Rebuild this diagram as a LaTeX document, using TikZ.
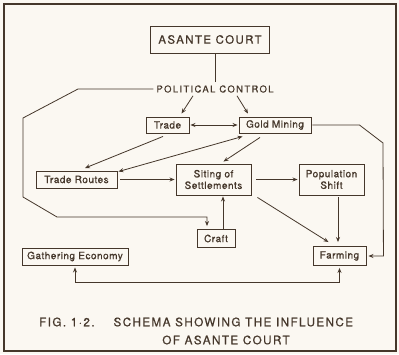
\documentclass[tikz,border=0pt]{standalone}
\usepackage{fontspec}
\setmainfont{TeX Gyre Heros}
\newfontfamily\widefont[LetterSpace=12,FakeBold=0.6]{TeX Gyre Heros}
\newfontfamily\polfont[LetterSpace=14,FakeBold=0.6]{TeX Gyre Heros}
\newfontfamily\midfont[LetterSpace=5,FakeBold=0.6]{TeX Gyre Heros}
\usetikzlibrary{arrows.meta,calc}
\definecolor{ink}{HTML}{45372B}
\definecolor{paper}{HTML}{FBF8F2}
\tikzset{
  box/.style={draw=ink, line width=0.9pt, inner sep=0pt, align=center,
    text=ink, font=\midfont\fontsize{10}{11.5}\selectfont},
  ln/.style={draw=ink, line width=0.8pt},
  arr/.style={ln, -{Stealth[length=5pt,width=4pt]}},
  arrb/.style={ln, {Stealth[length=5pt,width=4pt]}-{Stealth[length=5pt,width=4pt]}},
  lbl/.style={text=ink, inner sep=2pt}
}
\begin{document}
\begin{tikzpicture}[x=1pt,y=-1pt]
\useasboundingbox (0,0) rectangle (399,354);
\fill[paper] (0,0) rectangle (399,354);
\draw[ink, line width=1.2pt] (4,4) rectangle (396,351);

\node[box, minimum width=119, minimum height=27, font=\widefont\fontsize{11.5}{13}\selectfont] (court) at (210,39.5) {ASANTE COURT};
\node[lbl, font=\polfont\fontsize{9.5}{11}\selectfont, inner sep=3pt] (pc) at (215,89) {POLITICAL CONTROL};
\node[box, minimum width=43, minimum height=16] (trade) at (167.5,125) {Trade};
\node[box, minimum width=72, minimum height=16] (gold) at (275,125) {Gold Mining};
\node[box, minimum width=81, minimum height=17] (routes) at (76.5,179.5) {Trade Routes};
\node[box, minimum width=75, minimum height=31] (siting) at (213.5,179.5) {Siting of\\Settlements};
\node[box, minimum width=65, minimum height=31] (pop) at (331.5,179.5) {Population\\Shift};
\node[box, minimum width=38, minimum height=18] (craft) at (216,238.5) {Craft};
\node[box, minimum width=106, minimum height=17] (gather) at (75,256.5) {Gathering Economy};
\node[box, minimum width=53, minimum height=19] (farm) at (339.5,256) {Farming};

\node[lbl, font=\widefont\fontsize{11.7}{14}\selectfont, anchor=west] (cap1) at (37,322) {FIG. 1·2.\hspace{19pt}SCHEMA SHOWING THE INFLUENCE};
\node[lbl, font=\widefont\fontsize{11.7}{14}\selectfont] (cap2) at (226,340) {OF ASANTE COURT};

% court to political control
\draw[ln] (pc.north) -- (pc.north |- court.south);

% political control arrows
\draw[arr] ([xshift=-22]pc.south) -- ([xshift=14,yshift=3]trade.north);
\draw[arr] ([xshift=22]pc.south) -- ([xshift=-27,yshift=3]gold.north);

% left loop to craft
\coordinate (cin) at ([xshift=-9,yshift=3]craft.north);
\coordinate (lowy) at (0,217);
\draw[arr] (pc.west) -- (78,89) -- (23,118) -- (23,197) -- (57,217) -- (cin |- lowy) -- (cin);

% trade <-> gold
\draw[arrb] ([xshift=1]trade.east) -- ([xshift=-1]gold.west);
% trade -> routes
\draw[arr] ([xshift=-4.5,yshift=-3]trade.south) -- ([xshift=8.5,yshift=2.5]routes.north);
% gold <-> routes
\draw[arrb] ([xshift=4,yshift=-3]gold.south west) -- ([xshift=1,yshift=-1]routes.north east);
% gold -> siting
\draw[arr] ([xshift=-15,yshift=-4]gold.south) -- ([xshift=10,yshift=2]siting.north);
% gold -> farming via right
\draw[arr] ([xshift=1]gold.east) -- ++(47,0) -- (383,143) -- ($(farm.east)+(17,0)$) -- ([xshift=2]farm.east);
% routes -> siting
\draw[arr] ([xshift=3]routes.east) -- ([xshift=-1]siting.west);
% siting -> population
\draw[arr] ([xshift=5]siting.east) -- ([xshift=-1]pop.west);
% siting -> farming
\draw[arr] ([xshift=6,yshift=-2]siting.south east) -- ([xshift=-11,yshift=4]farm.north);
% population -> farming
\draw[arr] ([xshift=6.5,yshift=-2]pop.south) -- ([xshift=-1.5,yshift=4]farm.north);
% craft -> siting
\draw[arr] ([xshift=7]craft.north) -- ([xshift=9.5,yshift=-1]siting.south);
% gathering <-> farming
\coordinate (boty) at (0,282);
\draw[arrb] ([yshift=-2]gather.south) -- (gather.south |- boty) -- (farm.south |- boty) -- ([yshift=-2]farm.south);
\end{tikzpicture}
\end{document}
